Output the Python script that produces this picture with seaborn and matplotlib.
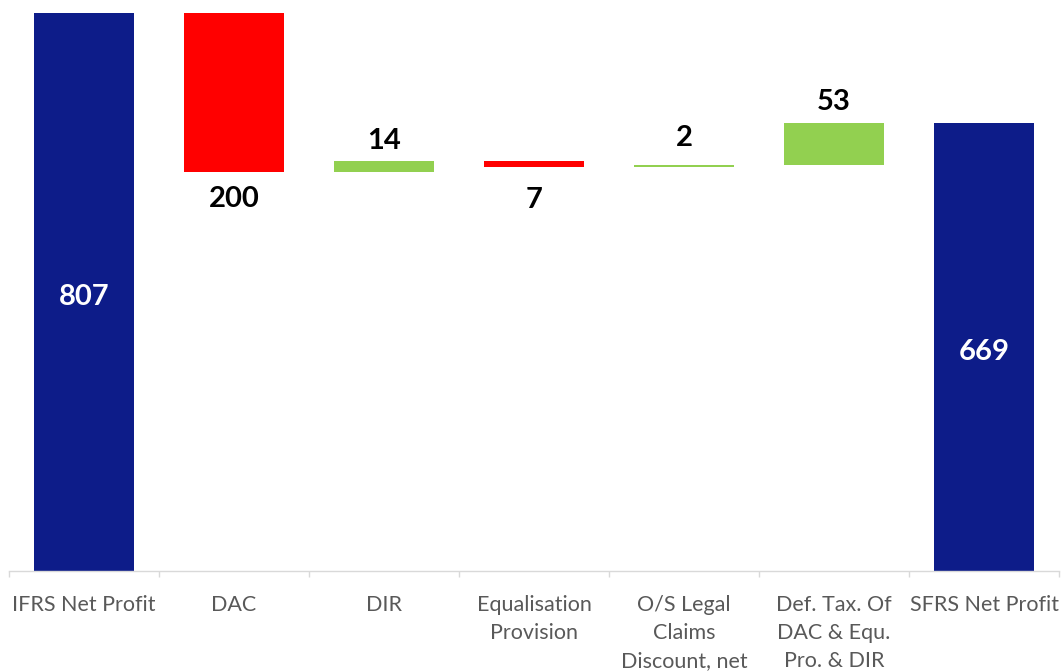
import numpy as np
import pandas as pd
import matplotlib
matplotlib.use("Agg")
import matplotlib.pyplot as plt
import seaborn as sns

# ---- data ----
categories = ["IFRS Net Profit", "DAC", "DIR", "Equalisation\nProvision",
              "O/S Legal\nClaims\nDiscount, net", "Def. Tax. Of\nDAC & Equ.\nPro. & DIR",
              "SFRS Net Profit"]
values = [807, -200, 14, -7, 2, 53, 669]
is_total = [True, False, False, False, False, False, True]

# label offsets in points (style only)
label_offsets = [-2, -17.5, 16.5, -22.5, 21, 16.5, -2]

# colours
c_total = "#0D1C89"
c_neg = "#FF0000"
c_pos = "#92D050"

# waterfall geometry derived from the values
bottoms, heights, colors = [], [], []
running = 0
for v, tot in zip(values, is_total):
    if tot:
        bottoms.append(0)
        heights.append(v)
        colors.append(c_total)
        running = v
    else:
        if v >= 0:
            bottoms.append(running)
            colors.append(c_pos)
        else:
            bottoms.append(running + v)
            colors.append(c_neg)
        heights.append(abs(v))
        running += v

df = pd.DataFrame({"category": categories, "height": heights, "bottom": bottoms})

sns.set_theme(style="white")
plt.rcParams["font.family"] = ["Lato", "DejaVu Sans"]

fig = plt.figure(figsize=(10.64, 6.72), dpi=100)
ax = fig.add_axes([9 / 1064, 101 / 672, 1050 / 1064, 571 / 672])

sns.barplot(data=df, x="category", y="height", order=categories,
            bottom=df["bottom"].values, width=0.67, errorbar=None,
            color=c_total, linewidth=0, ax=ax)
for p, c in zip(ax.patches, colors):
    p.set_facecolor(c)
    p.set_edgecolor("none")

ymin, ymax = 107, 823
ax.set_ylim(ymin, ymax)
ax.set_xlim(-0.5, len(categories) - 0.5)

# value labels
for i, (v, tot, b, h, off) in enumerate(zip(values, is_total, bottoms, heights, label_offsets)):
    if tot:
        ax.annotate(f"{v}", (i, (ymin + v) / 2), xytext=(0, off), textcoords="offset points",
                    ha="center", va="center_baseline", color="white",
                    fontsize=21, fontweight="bold")
    elif v >= 0:
        ax.annotate(f"{abs(v)}", (i, b + h), xytext=(0, off), textcoords="offset points",
                    ha="center", va="center_baseline", fontsize=21, fontweight="bold",
                    color="black")
    else:
        ax.annotate(f"{abs(v)}", (i, b), xytext=(0, off), textcoords="offset points",
                    ha="center", va="center_baseline", fontsize=21, fontweight="bold",
                    color="black")

# axes styling
ax.set_xlabel("")
ax.set_ylabel("")
ax.set_yticks([])
for s in ["left", "right", "top"]:
    ax.spines[s].set_visible(False)
ax.spines["bottom"].set_color("#D9D9D9")
ax.spines["bottom"].set_linewidth(1.0)

ax.set_xticks(range(len(categories)))
ax.set_xticklabels(categories, fontsize=15.5, color="#595959", linespacing=1.5, va="top")
ax.tick_params(axis="x", which="major", length=0, pad=17)
ax.set_xticks(np.arange(-0.5, len(categories), 1.0), minor=True)
ax.tick_params(axis="x", which="minor", length=4, width=1, color="#D9D9D9", bottom=True)

fig.savefig("out.png", dpi=100)
